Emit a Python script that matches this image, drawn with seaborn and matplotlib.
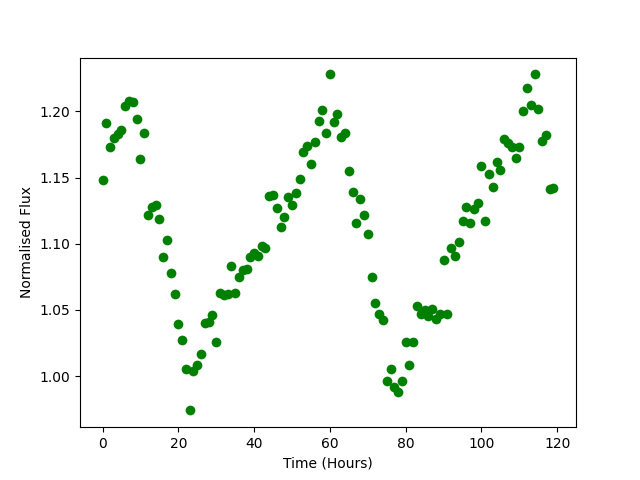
import numpy as np
import pandas as pd
import matplotlib
matplotlib.use("Agg")
import matplotlib.pyplot as plt
import seaborn as sns

hours = list(range(120))
flux = [
    1.148, 1.191, 1.173, 1.180, 1.183, 1.186, 1.204, 1.208, 1.207, 1.194,
    1.164, 1.184, 1.122, 1.128, 1.129, 1.119, 1.090, 1.103, 1.078, 1.062,
    1.039, 1.027, 1.005, 0.974, 1.004, 1.008, 1.017, 1.040, 1.041, 1.046,
    1.026, 1.063, 1.061, 1.062, 1.083, 1.063, 1.075, 1.080, 1.081, 1.090,
    1.093, 1.091, 1.098, 1.097, 1.136, 1.137, 1.127, 1.113, 1.120, 1.135,
    1.129, 1.138, 1.149, 1.169, 1.174, 1.160, 1.177, 1.193, 1.201, 1.184,
    1.228, 1.192, 1.198, 1.181, 1.184, 1.155, 1.139, 1.116, 1.134, 1.122,
    1.107, 1.075, 1.055, 1.047, 1.042, 0.996, 1.005, 0.992, 0.988, 0.996,
    1.026, 1.008, 1.026, 1.053, 1.047, 1.050, 1.045, 1.051, 1.043, 1.047,
    1.088, 1.047, 1.097, 1.091, 1.101, 1.117, 1.128, 1.116, 1.126, 1.131,
    1.159, 1.117, 1.153, 1.143, 1.162, 1.156, 1.179, 1.176, 1.173, 1.165,
    1.173, 1.200, 1.218, 1.205, 1.228, 1.202, 1.178, 1.182, 1.141, 1.142,
]

df = pd.DataFrame({'Time (Hours)': hours, 'Normalised Flux': flux})

fig, ax = plt.subplots(figsize=(6.4, 4.8), dpi=100)
sns.scatterplot(data=df, x='Time (Hours)', y='Normalised Flux', ax=ax,
                color='green', s=49, linewidth=0)
ax.set_xlabel('Time (Hours)')
ax.set_ylabel('Normalised Flux')

fig.savefig('out.png', dpi=100)
